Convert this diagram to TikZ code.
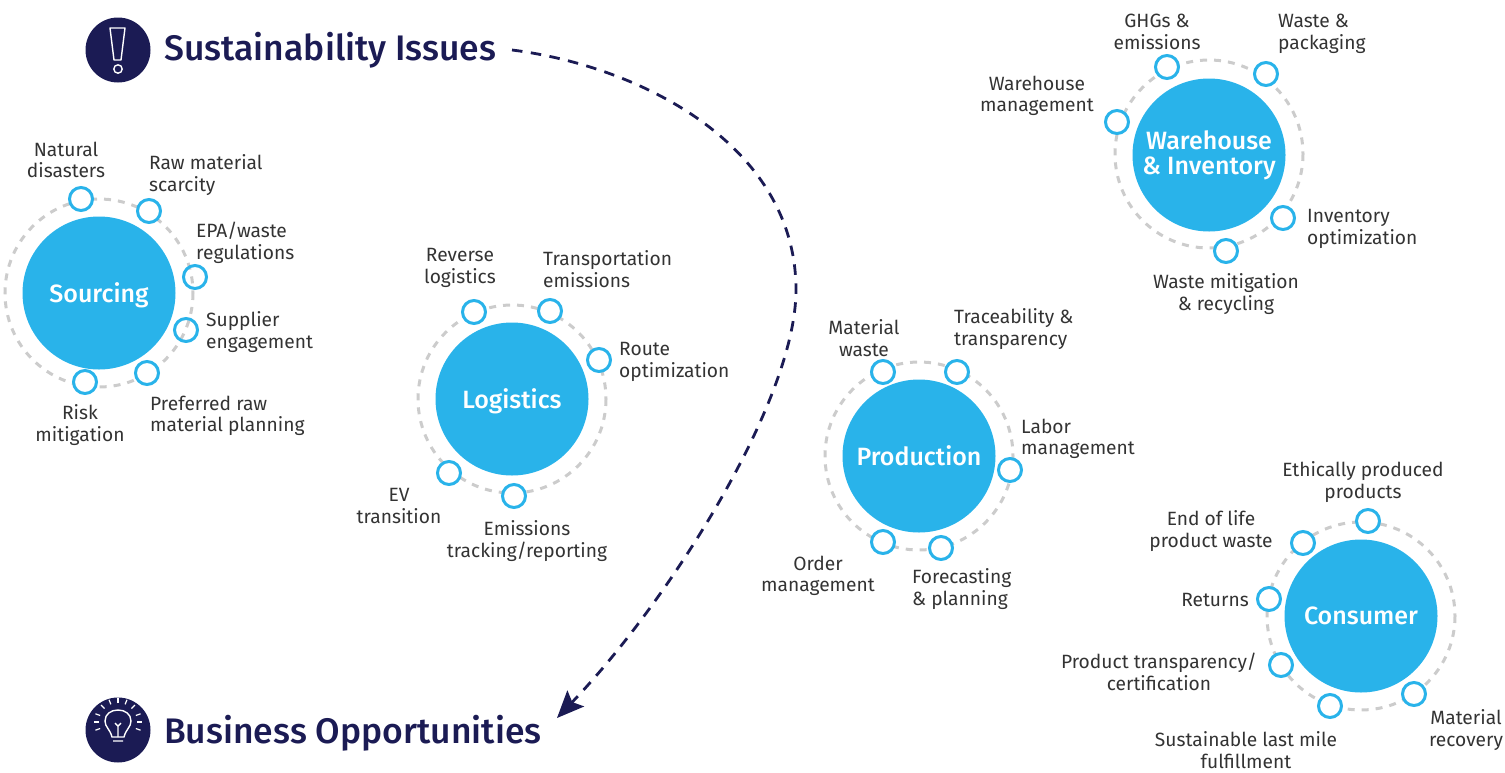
\documentclass[tikz,border=0pt]{standalone}
\usepackage{fontspec}
\setmainfont{Fira Sans}
\newfontfamily\firamed{Fira Sans Medium}
\usetikzlibrary{arrows.meta}
\definecolor{navy}{HTML}{1B1B54}
\definecolor{sky}{HTML}{29B3EA}
\definecolor{ringgray}{HTML}{CCCCCC}
\definecolor{txt}{HTML}{333333}
\tikzset{
  x=1pt,y=-1pt,
  hub/.style={circle,fill=sky,minimum size=153pt,inner sep=0pt,text=white,font=\firamed\fontsize{25}{25}\selectfont,align=center},
  hubone/.style={hub,text height=22pt,text depth=4pt},
  ring/.style={draw=ringgray,line width=3pt,dash pattern=on 7pt off 7pt},
  dotw/.style={circle,draw=sky,line width=3pt,fill=white,minimum size=23pt,inner sep=0pt},
  doto/.style={circle,draw=sky,line width=3pt,minimum size=23pt,inner sep=0pt},
  lab/.style={font=\fontsize{19.2}{21.5}\selectfont,text=txt,align=center,inner sep=0pt,yshift=-1pt},
  labl/.style={lab,align=left},
  title/.style={font=\firamed\fontsize{35.5}{38}\selectfont,text=navy,anchor=west,inner sep=0pt},
  badge/.style={circle,fill=navy,minimum size=65pt,inner sep=0pt},
  glyph/.style={draw=white,line width=1.4pt},
}
\begin{document}
\begin{tikzpicture}
\useasboundingbox (0,0) rectangle (1505,772);
% rings
\draw[ring] (99,293) circle (94);
\draw[ring] (512,399) circle (94);
\draw[ring] (919,456) circle (94);
\draw[ring] (1209,154) circle (94);
\draw[ring] (1361,616) circle (94);
% hubs
\node[hubone] (sourcing) at (99,293) {Sourcing};
\node[hubone] (logistics) at (512,399) {Logistics};
\node[hubone] (production) at (919,456) {Production};
\node[hub] (warehouse) at (1209,155) {Warehouse\\\& Inventory};
\node[hubone,text height=21pt] (consumer) at (1361,616) {Consumer};
% sourcing
\node[dotw] (s1) at (81,199) {};
\node[dotw] (s2) at (149,211) {};
\node[doto] (s3) at (195,277) {};
\node[doto] (s4) at (186,330) {};
\node[dotw] (s5) at (147,373) {};
\node[dotw] (s6) at (85,382) {};
\node[lab] (ls1) at (66,159) {Natural\\disasters};
\node[labl,anchor=west] (ls2) at (149,174) {Raw material\\scarcity};
\node[labl,anchor=west] (ls3) at (196,242) {EPA/waste\\regulations};
\node[labl,anchor=west] (ls4) at (206,331) {Supplier\\engagement};
\node[labl,anchor=west] (ls5) at (150,415) {Preferred raw\\material planning};
\node[lab] (ls6) at (80,424) {Risk\\mitigation};
% logistics
\node[dotw] (l1) at (474,312) {};
\node[dotw] (l2) at (550,311) {};
\node[dotw] (l3) at (599,360) {};
\node[dotw] (l4) at (514,496) {};
\node[dotw] (l5) at (449,473) {};
\node[lab] (ll1) at (460,267) {Reverse\\logistics};
\node[labl,anchor=west] (ll2) at (543,268) {Transportation\\emissions};
\node[labl,anchor=west] (ll3) at (619,361) {Route\\optimization};
\node[lab] (ll4) at (527,540) {Emissions\\tracking/reporting};
\node[lab] (ll5) at (399,505) {EV\\transition};
% production
\node[dotw] (p1) at (883,372) {};
\node[dotw] (p2) at (957,372) {};
\node[dotw] (p3) at (1010,470) {};
\node[dotw] (p4) at (941,548) {};
\node[dotw] (p5) at (883,542) {};
\node[lab] (lp1) at (864,337) {Material\\waste};
\node[labl,anchor=west] (lp2) at (954,328) {Traceability \&\\transparency};
\node[labl,anchor=west] (lp3) at (1021,438) {Labor\\management};
\node[labl,anchor=west] (lp4) at (912,588) {Forecasting\\\& planning};
\node[lab] (lp5) at (818,575) {Order\\management};
% warehouse
\node[dotw] (w1) at (1167,67) {};
\node[dotw] (w2) at (1266,74) {};
\node[dotw] (w3) at (1117,122) {};
\node[dotw] (w4) at (1283,218) {};
\node[dotw] (w5) at (1226,251) {};
\node[lab] (lw1) at (1157,31) {GHGs \&\\emissions};
\node[labl,anchor=west] (lw2) at (1278,33) {Waste \&\\packaging};
\node[lab] (lw3) at (1037,95) {Warehouse\\management};
\node[labl,anchor=west] (lw4) at (1307,228) {Inventory\\optimization};
\node[lab] (lw5) at (1226,293) {Waste mitigation\\\& recycling};
% consumer
\node[dotw] (c1) at (1368,521) {};
\node[dotw] (c2) at (1303,543) {};
\node[dotw] (c3) at (1269,599) {};
\node[dotw] (c4) at (1281,665) {};
\node[dotw] (c5) at (1330,706) {};
\node[dotw] (c6) at (1414,694) {};
\node[lab] (lc1) at (1363,481) {Ethically produced\\products};
\node[lab] (lc2) at (1211,530) {End of life\\product waste};
\node[lab] (lc3) at (1215,599) {Returns};
\node[lab] (lc4) at (1159,671) {Product transparency/\\certification};
\node[lab] (lc5) at (1246,749) {Sustainable last mile\\fulfillment};
\node[lab] (lc6) at (1466,729) {Material\\recovery};
% badges
\node[badge] (issuesb) at (118,50) {};
\draw[glyph,line join=round] (110,28) -- (125,28) -- (121,60) -- (114,60) -- cycle;
\draw[glyph] (118,69) circle (4.2);
\node[badge] (oppb) at (118,730) {};
\draw[glyph] (112,737) .. controls (110,729) and (105,727) .. (105,721) .. controls (105,714) and (111,710) .. (118,710) .. controls (125,710) and (131,714) .. (131,721) .. controls (131,727) and (126,729) .. (124,737) -- cycle;
\draw[glyph] (113,741) -- (123,741) (118,737) -- (118,726) (115,723) -- (118,726) -- (121,723);
\foreach \a in {-160,-135,-112,-90,-68,-45,-20,0,180,20,160}
  \draw[glyph,line width=1.2pt] (118,722) ++(\a:19) -- ++(\a:5);
% titles
\node[title] (issues) at (164,50) {Sustainability Issues};
\node[title] (opps) at (164,733) {Business Opportunities};
% connector
\coordinate (from) at (512,50);
\coordinate (bend) at (796,290);
\coordinate (to) at (557,718);
\draw[navy,line width=2.8pt,dash pattern=on 10.5pt off 8.5pt,-{Stealth[length=27pt,width=23pt,inset=5pt]}]
  (from) .. controls (640,66) and (796,145) .. (bend) .. controls (796,400) and (670,600) .. (to);
\end{tikzpicture}
\end{document}
